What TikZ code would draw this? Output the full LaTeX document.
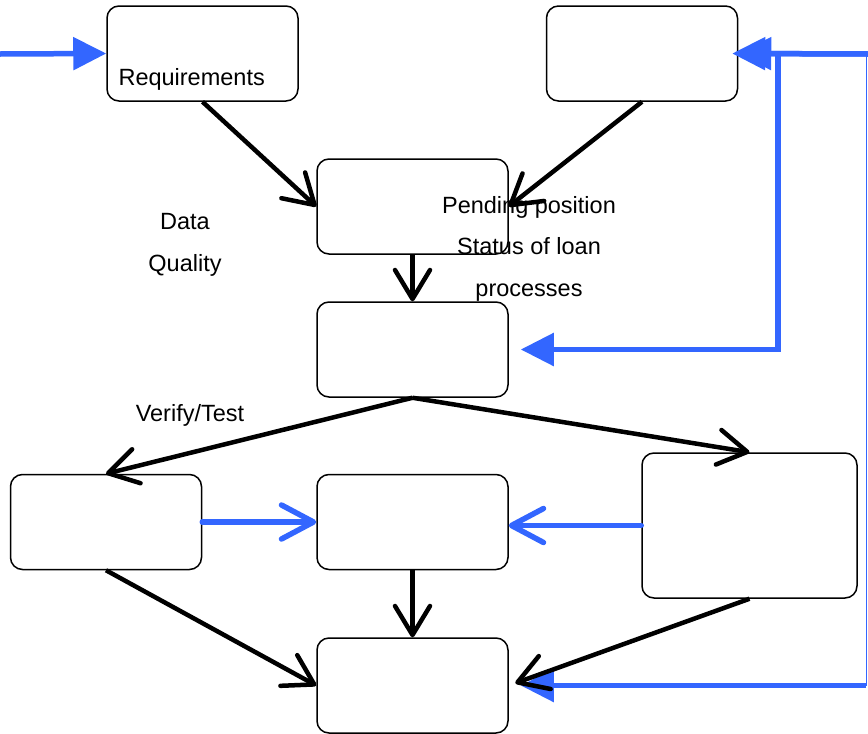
\documentclass[tikz,border=0pt]{standalone}
\usepackage{fontspec}
\setmainfont{Liberation Sans}
\usetikzlibrary{arrows.meta}
\definecolor{fbblue}{RGB}{51,102,255}

\begin{document}
\begin{tikzpicture}
  [x=1pt,y=-1pt,
    every node/.style={font=\fontsize{23.5}{41.5}\selectfont},
    box/.style={draw,rounded corners=12pt,line width=1.5pt,minimum width=191pt,minimum height=95pt,inner sep=0pt},
    flow/.style={line width=4.5pt,-{Straight Barb[length=29pt,width=35pt,round]}},
    feed/.style={draw=fbblue,line width=5.5pt,-{Triangle[length=33pt,width=32pt]}},
    side/.style={draw=fbblue,line width=5.5pt,line cap=round,-{Straight Barb[length=32pt,width=34pt,round]}},
]
  \useasboundingbox (0,0) rectangle (868,734);
  % boxes
  \node[box] (req) at (202.5,53.5) {};
  \node[box] (src) at (642,53.5) {};
  \node[box] (merge) at (412.5,206.5) {};
  \node[box] (proc) at (412.5,349.5) {};
  \node[box] (left) at (106,522) {};
  \node[box] (mid) at (412.5,522) {};
  \node[box,minimum width=215pt,minimum height=145pt] (right) at (749.5,525.5) {};
  \node[box] (out) at (412.5,685.5) {};
  % texts
  \node[anchor=west] (reqtext) at (115,79) {Requirements};
  \node[align=center] (quality) at (185,245) {Data\\Quality};
  \node[align=center] (pending) at (529,248.5) {Pending position\\Status of loan\\processes};
  \node (verify) at (190,415) {Verify/Test};
  % feedback lines
  \coordinate (fbin) at (0,54);
  \coordinate (fbedge) at (868,54);
  \coordinate (fbtop) at (866,54);
  \coordinate (fbbend) at (778,54);
  \coordinate (fbcorner) at (866,685.5);
  \draw[feed] (fbin) -- (req.west);
  \draw[feed] (fbedge) -- (src.east);
  \draw[feed] (fbedge) -- ([xshift=-6pt]src.east);
  \draw[feed,shorten >=12pt] (fbbend) |- (proc.east);
  \draw[fbblue,line width=1pt] (fbtop) -- (fbcorner);
  % main flow
  \draw[flow] (req.south) -- (merge.west);
  \draw[flow] (src.south) -- (merge.east);
  \draw[flow] (merge.south) -- (proc.north);
  \draw[flow] (proc.south) -- (left.north);
  \draw[flow] (proc.south) -- (right.north);
  \draw[flow] (mid.south) -- (out.north);
  \draw[flow] (left.south) -- (out.west);
  \draw[feed,shorten >=12pt] (fbcorner) -- (out.east);
  \draw[flow,shorten >=7pt] (right.south) -- (out.east);
  % side inputs
  \draw[side] (left.east) -- (mid.west);
  \draw[side] (right.west) -- (right.west -| mid.east);
\end{tikzpicture}
\end{document}
